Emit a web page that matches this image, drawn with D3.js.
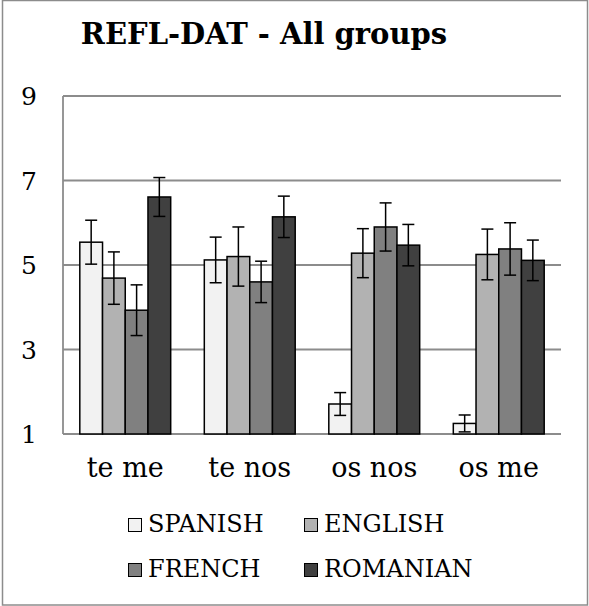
<!DOCTYPE html>
<html>
<head>
<meta charset="utf-8">
<script src="https://cdn.jsdelivr.net/npm/d3@7"></script>
<style>
html,body{margin:0;padding:0;background:#fff;}
svg{display:block;}
text{font-family:"DejaVu Serif","Liberation Serif",serif;fill:#000;}
</style>
</head>
<body>
<svg id="chart" width="589" height="606"></svg>
<script>
const title = "REFL-DAT - All groups";
const categories = ["te me", "te nos", "os nos", "os me"];
const seriesNames = ["SPANISH", "ENGLISH", "FRENCH", "ROMANIAN"];
const seriesColors = ["#f2f2f2", "#b2b2b2", "#808080", "#404040"];
const spanish  = [5.54, 5.12, 1.71, 1.25];
const english  = [4.69, 5.20, 5.28, 5.25];
const french   = [3.93, 4.60, 5.90, 5.38];
const romanian = [6.61, 6.14, 5.47, 5.11];
const spanishErr  = [0.52, 0.54, 0.27, 0.20];
const englishErr  = [0.62, 0.70, 0.58, 0.60];
const frenchErr   = [0.60, 0.49, 0.57, 0.62];
const romanianErr = [0.46, 0.49, 0.49, 0.48];
const yTicks = [1, 3, 5, 7, 9];

const values = [spanish, english, french, romanian];
const errors = [spanishErr, englishErr, frenchErr, romanianErr];

const svg = d3.select("#chart");
const W = 589, H = 606;

// outer border
svg.append("rect").attr("x", 2.5).attr("y", 0.5).attr("width", W - 4).attr("height", H - 1.5)
  .attr("fill", "#fff").attr("stroke", "#8c8c8c").attr("stroke-width", 1.5);

const pLeft = 63, pRight = 561, pTop = 96, pBottom = 434;
const x0 = d3.scaleBand().domain(categories).range([pLeft, pRight]).paddingInner(0.27).paddingOuter(0.135);
const x1 = d3.scaleBand().domain(seriesNames).range([0, x0.bandwidth()]);
const y = d3.scaleLinear().domain([1, 9]).range([pBottom, pTop]);

// title
svg.append("text").attr("x", 264).attr("y", 44).attr("text-anchor", "middle")
  .attr("font-size", 29).attr("font-weight", "bold").text(title);

// gridlines
svg.append("g").selectAll("line").data(yTicks).join("line")
  .attr("x1", pLeft).attr("x2", pRight)
  .attr("y1", d => y(d)).attr("y2", d => y(d))
  .attr("stroke", "#8c8c8c").attr("stroke-width", 1.8);
// left axis line
svg.append("line").attr("x1", pLeft).attr("x2", pLeft).attr("y1", pTop).attr("y2", pBottom)
  .attr("stroke", "#8c8c8c").attr("stroke-width", 1.8);

// y tick labels
svg.append("g").selectAll("text").data(yTicks).join("text")
  .attr("x", 29).attr("y", d => y(d) + 9).attr("text-anchor", "middle")
  .attr("font-size", 25).text(d => d);

// bars
const groups = svg.append("g").selectAll("g").data(categories).join("g")
  .attr("transform", d => `translate(${x0(d)},0)`);
groups.each(function(cat, ci) {
  const g = d3.select(this);
  seriesNames.forEach((s, si) => {
    const v = values[si][ci];
    const e = errors[si][ci];
    const bx = x1(s);
    g.append("rect").attr("x", bx).attr("y", y(v))
      .attr("width", x1.bandwidth()).attr("height", y(1) - y(v))
      .attr("fill", seriesColors[si]).attr("stroke", "#000").attr("stroke-width", 1.5);
    const cx = bx + x1.bandwidth() / 2;
    const lo = Math.max(1, v - e);
    g.append("line").attr("x1", cx).attr("x2", cx).attr("y1", y(v + e)).attr("y2", y(lo))
      .attr("stroke", "#000").attr("stroke-width", 1.5);
    [v + e, lo].forEach(t => {
      g.append("line").attr("x1", cx - 6).attr("x2", cx + 6).attr("y1", y(t)).attr("y2", y(t))
        .attr("stroke", "#000").attr("stroke-width", 1.5);
    });
  });
});

// x labels
svg.append("g").selectAll("text").data(categories).join("text")
  .attr("x", d => x0(d) + x0.bandwidth() / 2).attr("y", 477).attr("text-anchor", "middle")
  .attr("font-size", 27).text(d => d);

// legend
const legendPos = [[128, 532], [304, 532], [128, 577], [304, 577]];
seriesNames.forEach((s, i) => {
  const [lx, ly] = legendPos[i];
  svg.append("rect").attr("x", lx + 0.5).attr("y", ly - 13.5).attr("width", 13).attr("height", 13)
    .attr("fill", seriesColors[i]).attr("stroke", "#000").attr("stroke-width", 1);
  svg.append("text").attr("x", lx + 20).attr("y", ly).attr("font-size", 24).text(s);
});
</script>
</body>
</html>
